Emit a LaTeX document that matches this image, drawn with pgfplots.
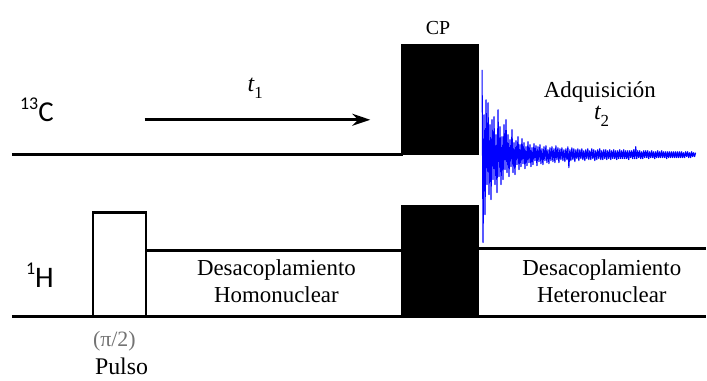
\documentclass[border=0pt]{standalone}
\usepackage{pgfplots}
\pgfplotsset{compat=1.18}
\usepackage{pgfplotstable}
\usetikzlibrary{arrows.meta}
\usepackage{fontspec}
\setmainfont{Liberation Serif}
\newfontfamily\labelfont{Carlito}

% Free induction decay on the 13C channel: time (px) and deviation from the baseline
\pgfplotstableread{
x d
483 -85
484 88
485 -40
486 60
487 -55
488 30
489 -52
490 40
491 -30
492 45
493 -35
494 25
495 -38
496 30
497 -20
498 38
499 -45
500 22
501 -28
502 30
503 -18
504 25
505 -30
506 15
507 -35
508 18
509 -20
510 22
511 -15
512 12
513 -25
514 18
515 -12
516 20
517 -14
518 10
519 -18
520 15
521 -10
522 12
523 -16
524 9
525 -12
526 14
527 -8
528 11
529 -13
530 8
531 -10
532 12
533 -7
534 10
535 -11
536 6
537 -9
538 11
539 -8
540 7
541 -10
542 9
543 -6
544 10
545 -8
546 6
547 -9
548 8
549 -5
550 9
551 -7
552 6
553 -8
554 7
555 -6
556 8
557 -9
558 5
559 -7
560 8
561 -6
562 5
563 -7
564 6
565 -5
566 7
567 -6
568 5
569 -8
570 13
571 -5
572 6
573 -7
574 5
575 -6
576 7
577 -5
578 4
579 -6
580 6
581 -5
582 4
583 -6
584 5
585 -4
586 6
587 -5
588 4
589 -6
590 5
591 -4
592 5
593 -6
594 4
595 -5
596 6
597 -4
598 5
599 -5
600 4
601 -6
602 5
603 -4
604 5
605 -5
606 4
607 -5
608 5
609 -4
610 4
611 -5
612 5
613 -4
614 4
615 -5
616 4
617 -4
618 5
619 -4
620 4
621 -5
622 4
623 -4
624 4
625 -5
626 4
627 -4
628 4
629 -4
630 5
631 -4
632 3
633 -4
634 4
635 -5
636 4
637 -8
638 4
639 -4
640 3
641 -4
642 4
643 -3
644 4
645 -4
646 3
647 -4
648 3
649 -4
650 4
651 -3
652 3
653 -4
654 3
655 -3
656 4
657 -3
658 3
659 -4
660 3
661 -3
662 3
663 -4
664 3
665 -3
666 3
667 -3
668 4
669 -3
670 3
671 -3
672 3
673 -3
674 3
675 -3
676 3
677 -3
678 3
679 -3
680 3
681 -3
682 3
683 -3
684 3
685 -2
686 3
687 -3
688 2
689 -3
690 3
691 -2
692 3
693 -3
694 2
695 -2
696 2
697 -2
}\fid

\begin{document}
\begin{tikzpicture}
\begin{axis}[
  scale only axis, width=707bp, height=381bp,
  xmin=0, xmax=707, ymin=0, ymax=381, y dir=reverse,
  hide axis, clip=false,
]
% 13C channel baseline
\addplot[black, line width=3.6bp] coordinates {(12,155) (404,155)};
% 1H channel baseline
\addplot[black, line width=2.8bp] coordinates {(12,317) (707,317)};
% (pi/2) pulse on 1H
\addplot[black, line width=2.4bp] coordinates {(93,317) (93,213) (146,213) (146,317)};
% homonuclear decoupling level
\addplot[black, line width=2.4bp] coordinates {(146,251) (402,251)};
% heteronuclear decoupling level
\addplot[black, line width=2.4bp] coordinates {(479,249) (707,249)};
% cross-polarisation blocks
\addplot[fill=black, draw=black] coordinates {(402,155) (402,44) (479,44) (479,155)} -- cycle;
\addplot[fill=black, draw=black] coordinates {(402,317) (402,206) (479,206) (479,317)} -- cycle;
% acquisition
\addplot[blue, line width=1.1bp, line join=round] table[x=x, y expr=155+\thisrow{d}] {\fid};
% evolution arrow t1
\addplot[black, line width=2.6bp, -{Stealth[length=18bp, width=12bp]}] coordinates {(145,120) (371,120)};

% labels
\node[anchor=base west, inner sep=0] at (axis cs:20,122)
  {\labelfont\fontsize{29}{32}\selectfont\raisebox{0.42em}{\fontsize{18}{20}\selectfont 13}C};
\node[anchor=base west, inner sep=0] at (axis cs:26,288)
  {\labelfont\fontsize{30}{32}\selectfont\raisebox{0.42em}{\fontsize{18}{20}\selectfont 1}H};
\node[anchor=base west, inner sep=0] at (axis cs:248,92)
  {\fontsize{24}{28}\selectfont\itshape t\upshape\raisebox{-0.28em}{\fontsize{17}{20}\selectfont 1}};
\node[anchor=base, inner sep=0] at (axis cs:439,35) {\fontsize{20}{24}\selectfont CP};
\node[anchor=base, inner sep=0] at (axis cs:601,98) {\fontsize{23}{27}\selectfont Adquisición};
\node[anchor=base west, inner sep=0] at (axis cs:595,120)
  {\fontsize{24}{28}\selectfont\itshape t\upshape\raisebox{-0.28em}{\fontsize{17}{20}\selectfont 2}};
\node[anchor=base, inner sep=0] at (axis cs:277,276) {\fontsize{23}{27}\selectfont Desacoplamiento};
\node[anchor=base, inner sep=0] at (axis cs:277,303) {\fontsize{23}{27}\selectfont Homonuclear};
\node[anchor=base, inner sep=0] at (axis cs:603,276) {\fontsize{23}{27}\selectfont Desacoplamiento};
\node[anchor=base, inner sep=0] at (axis cs:603,303) {\fontsize{23}{27}\selectfont Heteronuclear};
\node[anchor=base west, inner sep=0, text=black!55] at (axis cs:93,347) {\fontsize{22}{26}\selectfont (π/2)};
\node[anchor=base west, inner sep=0] at (axis cs:95,375) {\fontsize{24}{28}\selectfont Pulso};
\end{axis}
\path (current axis.south west) rectangle (current axis.north east);
\end{tikzpicture}
\end{document}
